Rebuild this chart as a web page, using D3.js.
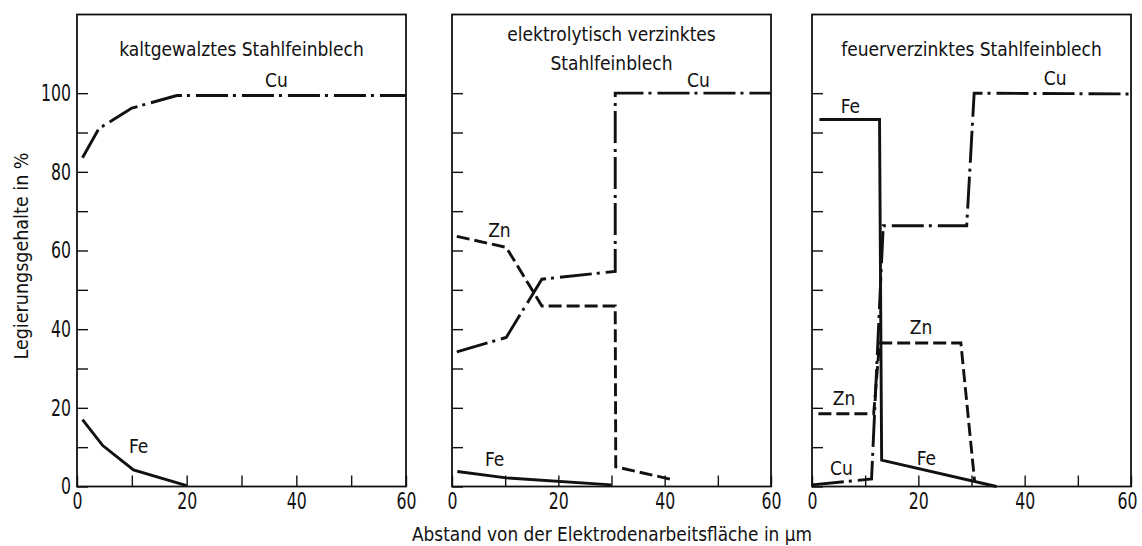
<!DOCTYPE html>
<html>
<head>
<meta charset="utf-8">
<script src="https://cdn.jsdelivr.net/npm/d3@7"></script>
<style>
  html, body { margin: 0; padding: 0; background: #fff; }
  svg { display: block; }
  text { font-family: "DejaVu Sans Condensed", "DejaVu Sans", sans-serif; fill: #111; }
</style>
</head>
<body>
<svg id="chart" width="1142" height="546"></svg>
<script>
// ---------- data ----------
const xTicks = [0, 10, 20, 30, 40, 50, 60];
const xTickLabels = [0, 20, 40, 60];
const yTicks = [0, 10, 20, 30, 40, 50, 60, 70, 80, 90, 100];
const yTickLabels = [0, 20, 40, 60, 80, 100];

const panelTitles = [
  ["kaltgewalztes Stahlfeinblech"],
  ["elektrolytisch verzinktes", "Stahlfeinblech"],
  ["feuerverzinktes Stahlfeinblech"]
];

// panel 1: kaltgewalztes Stahlfeinblech
const p1Cu = [[1, 83.6], [4, 91], [10, 96.2], [18.2, 99.4], [60, 99.4]];
const p1Fe = [[1, 17], [4.7, 10.4], [10.3, 4.2], [20, 0.2]];

// panel 2: elektrolytisch verzinktes Stahlfeinblech
const p2Cu = [[0.9, 34.2], [10.2, 37.9], [16.9, 52.7], [30.7, 54.7], [30.7, 100], [60, 100]];
const p2Zn = [[0.9, 63.6], [10.2, 60.8], [16.9, 45.9], [30.7, 45.9], [30.8, 5], [41.6, 1.7]];
const p2Fe = [[1, 3.8], [10.2, 2.2], [30, 0.4]];

// panel 3: feuerverzinktes Stahlfeinblech
const p3Fe = [[1.4, 93.3], [12.7, 93.3], [13.1, 6.7], [34.7, 0]];
const p3Cu = [[0, 0.4], [11.2, 1.9], [13.4, 66.3], [29.1, 66.3], [30.5, 100], [60, 99.8]];
const p3Zn = [[1.2, 18.5], [11.6, 18.5], [12.7, 36.5], [28, 36.5], [30.6, 1.1]];

// series label anchors (data units)
const p1Labels = [["Cu", 34.3, 101.6], ["Fe", 9.5, 8.6]];
const p2Labels = [["Zn", 6.8, 63.5], ["Fe", 6.2, 5.1], ["Cu", 44.2, 101.6]];
const p3Labels = [["Fe", 5.4, 95], ["Cu", 43.6, 102], ["Zn", 18.4, 38.8], ["Zn", 3.9, 20.6], ["Cu", 3.4, 2.9], ["Fe", 19.7, 5.5]];

const yLabel = "Legierungsgehalte in %";
const xLabel = "Abstand von der Elektrodenarbeitsfläche in µm";

// ---------- layout ----------
const svg = d3.select("#chart");
const plotTop = 14.5, plotBottom = 486.5;
const panelsX = [[77, 406], [452, 771], [812, 1131]];
const styles = {
  Cu: "32,5,3,6",
  Zn: "13,5",
  Fe: null
};
const SQ = 0.76; // horizontal squeeze of the tick numerals (condensed lettering)

const y = d3.scaleLinear().domain([0, 120]).range([plotBottom, plotTop]);

const panels = [
  { series: [["Cu", p1Cu], ["Fe", p1Fe]], labels: p1Labels },
  { series: [["Cu", p2Cu], ["Zn", p2Zn], ["Fe", p2Fe]], labels: p2Labels },
  { series: [["Cu", p3Cu], ["Zn", p3Zn], ["Fe", p3Fe]], labels: p3Labels }
];

panels.forEach((p, i) => {
  const [x0, x1] = panelsX[i];
  const x = d3.scaleLinear().domain([0, 60]).range([x0, x1]);
  const g = svg.append("g");

  // x axis (ticks inward)
  const xa = d3.axisBottom(x).tickValues(xTicks).tickSizeInner(-11).tickSizeOuter(0).tickPadding(6)
    .tickFormat(d => xTickLabels.includes(d) ? d : "");
  const gx = g.append("g").attr("transform", `translate(0,${plotBottom})`).call(xa);
  gx.select(".domain").remove();
  gx.selectAll("line").attr("stroke", "#111").attr("stroke-width", 1.4);
  gx.selectAll("text").attr("font-size", 23).attr("fill", "#111")
    .attr("font-family", '"DejaVu Sans Condensed", sans-serif')
    .attr("transform", `scale(${SQ},1)`);
  if (i === panels.length - 1) {
    // keep the last "60" inside the picture, as in the original
    gx.selectAll(".tick").filter(d => d === 60).select("text").attr("x", -4 / SQ);
  }

  // y axis (ticks inward)
  const ya = d3.axisLeft(y).tickValues(yTicks).tickSizeInner(-11).tickSizeOuter(0).tickPadding(6)
    .tickFormat(d => (i === 0 && yTickLabels.includes(d)) ? d : "");
  const gy = g.append("g").attr("transform", `translate(${x0},0)`).call(ya);
  gy.select(".domain").remove();
  gy.selectAll("line").attr("stroke", "#111").attr("stroke-width", 1.4);
  gy.selectAll("text").attr("font-size", 23).attr("fill", "#111")
    .attr("font-family", '"DejaVu Sans Condensed", sans-serif')
    .attr("x", -6 / SQ)
    .attr("transform", `scale(${SQ},1)`);

  // frame
  g.append("rect").attr("x", x0).attr("y", plotTop).attr("width", x1 - x0).attr("height", plotBottom - plotTop)
    .attr("fill", "none").attr("stroke", "#111").attr("stroke-width", 1.8);

  // series lines
  const line = d3.line().x(d => x(d[0])).y(d => y(d[1]));
  p.series.forEach(([name, data]) => {
    g.append("path").datum(data).attr("d", line)
      .attr("fill", "none").attr("stroke", "#111").attr("stroke-width", 2.9)
      .attr("stroke-linejoin", "miter").attr("stroke-linecap", "butt")
      .attr("stroke-dasharray", styles[name]);
  });

  // series labels
  p.labels.forEach(([t, lx, ly]) => {
    g.append("text").attr("x", x(lx)).attr("y", y(ly)).attr("font-size", 19).text(t);
  });

  // title
  const cx = (x0 + x1) / 2;
  const titles = panelTitles[i];
  const baseY = titles.length === 1 ? [55.5] : [41, 69.5];
  titles.forEach((t, k) => {
    g.append("text").attr("x", cx).attr("y", baseY[k]).attr("text-anchor", "middle")
      .attr("font-size", 19).text(t);
  });
});

// axis titles
svg.append("text").attr("transform", "translate(28,256) rotate(-90)")
  .attr("text-anchor", "middle").attr("font-size", 19)
  .attr("textLength", 207).attr("lengthAdjust", "spacingAndGlyphs").text(yLabel);
svg.append("text").attr("x", 612).attr("y", 541).attr("text-anchor", "middle")
  .attr("font-size", 19)
  .attr("textLength", 400).attr("lengthAdjust", "spacingAndGlyphs").text(xLabel);
</script>
</body>
</html>
